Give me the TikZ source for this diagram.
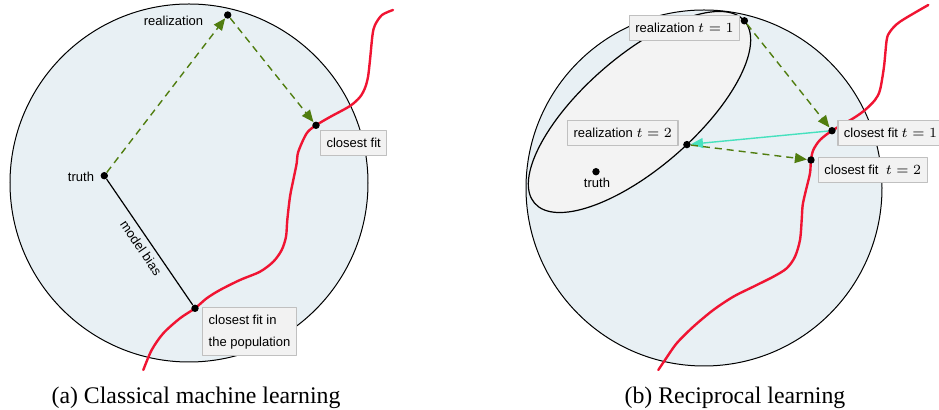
\documentclass[tikz,border=0pt]{standalone}
\usepackage{fontspec}
\setmainfont{Liberation Serif}
\setsansfont{Liberation Sans}
\usetikzlibrary{arrows.meta}
\usetikzlibrary{backgrounds}

\definecolor{spacefill}{RGB}{232,240,244}
\definecolor{ellfill}{RGB}{243,243,243}
\definecolor{fitred}{RGB}{240,20,50}
\definecolor{stepgreen}{RGB}{80,125,15}
\definecolor{backcyan}{RGB}{70,225,190}
\definecolor{boxgray}{RGB}{242,242,242}
\definecolor{boxline}{RGB}{192,192,192}

\newcommand{\tstep}[1]{{\fontsize{7.5}{8}\selectfont$t=#1$}}

\tikzset{
  dot/.style = {circle, fill = black, inner sep = 0pt, minimum size = 3.7pt},
  lbl/.style = {font = \fontsize{6.5}{8}\sffamily, inner sep = 1pt},
  fitbox/.style = {lbl, draw = boxline, fill = boxgray, line width = .6pt,
    inner xsep = 3pt, minimum height = 12.5pt},
  sample/.style = {draw = stepgreen, line width = .7pt,
    dash pattern = on 3.5pt off 2.5pt,
    -{Triangle[length = 6pt, width = 5pt]}},
  feedback/.style = {draw = backcyan, line width = .7pt,
    -{Triangle[length = 6pt, width = 5pt]}},
  model/.style = {draw = fitred, line width = 1.2pt, line cap = round},
  space/.style = {draw = black, line width = .5pt, fill = spacefill},
  caption/.style = {font = \fontsize{11.9}{14}\selectfont, inner sep = 0pt}
}

\begin{document}
\begin{tikzpicture}[x = .5pt, y = -.5pt, line join = round]
  \useasboundingbox (0, 0) rectangle (939, 410);

  % (a) classical
  \node[dot] (truth) at (104.3, 175.7) {};
  \node[dot] (real) at (227.7, 15) {};
  \node[dot] (fit) at (316, 125.3) {};
  \node[dot] (popfit) at (195, 308.3) {};

  \node[lbl] (reallbl) at (173.5, 20.7) {realization};
  \node[lbl] (truthlbl) at (81, 177) {truth};

  \draw[sample] (truth) -- (real);
  \draw[sample] (real) -- (fit);
  \draw[line width = .6pt] (truth) -- node[lbl, sloped, below = 1.5pt]
  (biaslbl) {model bias} (popfit);

  \node[fitbox] (fitbox) at (353.7, 143.3) {closest fit};
  \node[fitbox, align = left, font = \fontsize{6.5}{11}\sffamily,
  inner ysep = 3.5pt] (popbox) at (249.5, 331.7)
  {closest fit in\\the population};

  \node[caption] (capa) at (196, 398) {(a) Classical machine learning};

  % (b) reciprocal
  \node[dot] (truth2) at (596, 171.7) {};
  \node[dot] (real1) at (744.4, 20.8) {};
  \node[dot] (real2) at (686.9, 144.6) {};
  \node[dot] (fit1) at (832, 130.7) {};
  \node[dot] (fit2) at (811, 160) {};

  \node[lbl] (truth2lbl) at (597, 183) {truth};

  \draw[sample] (real1) -- (fit1);
  \draw[feedback] (fit1) -- (real2);
  \draw[sample] (real2) -- (fit2);

  \node[fitbox] (real1box) at (684.5, 28) {realization \tstep{1}};
  \node[fitbox] (real2box) at (622.8, 133) {realization \tstep{2}};
  \node[fitbox] (fit1box) at (890.5, 133) {closest fit \tstep{1}};
  \node[fitbox] (fit2box) at (872.8, 170.3) {closest fit\ \ \tstep{2}};

  \node[caption] (capb) at (735, 398) {(b) Reciprocal learning};

  \begin{scope}[on background layer]
    \path[space] (189, 183) circle[radius = 179];
    \draw[model] plot[smooth, tension = .5] coordinates {
      (393, 10) (382, 15) (375, 25) (372.5, 35) (370, 60) (368, 77)
      (365, 88) (360, 97) (350, 106) (330, 117) (fit.center)
      (306.7, 133.3) (298.3, 151.7) (296.7, 163.3) (293.3, 180)
      (290, 196.7) (287.3, 220) (286, 236.7) (281.7, 250) (273.3, 261.7)
      (260, 271.7) (240, 280) (220, 290) (206.7, 298.3) (popfit.center)
      (180, 318.3) (163.3, 333.3) (151.7, 350) (143.3, 370)};

    \path[space] (704, 188) circle[radius = 178];
    \begin{scope}[shift = {(639.5, 112)}, rotate = 41]
      \path[draw = black, line width = .6pt, fill = ellfill] (0, 0)
      ellipse[x radius = 139, y radius = 56];
    \end{scope}
    \draw[model] plot[smooth, tension = .5] coordinates {
      (928.3, 5) (900, 21.7) (890, 31.7) (886.7, 40) (884, 66.7)
      (880, 90) (875, 100) (865, 110) (853.3, 118.3) (fit1.center)
      (820, 140) (813.3, 150) (fit2.center) (810, 173.3) (806, 190)
      (802.7, 205) (801.7, 220) (800, 240) (795, 256.7) (786.7, 268.3)
      (773.3, 276.7) (753.3, 286.7) (733.3, 296.7) (713.3, 310)
      (693.3, 326.7) (676.7, 343.3) (665, 360) (658.3, 370)};
  \end{scope}
\end{tikzpicture}
\end{document}
